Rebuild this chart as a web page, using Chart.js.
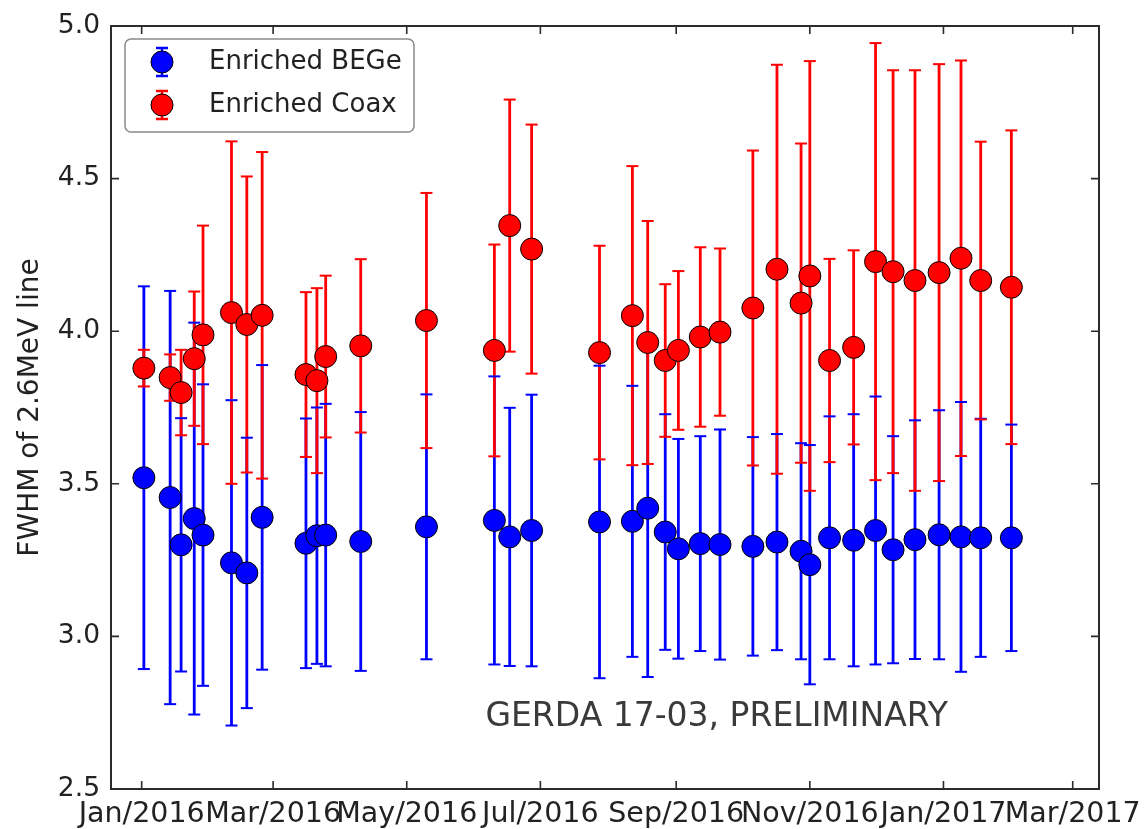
<!DOCTYPE html>
<html>
<head>
<meta charset="utf-8">
<script src="https://cdn.jsdelivr.net/npm/chart.js@4.4.1/dist/chart.umd.min.js"></script>
<style>
  html, body { margin: 0; padding: 0; background: #ffffff; }
  #wrap { width: 1146px; height: 829px; position: relative; }
</style>
</head>
<body>
<div id="wrap"><canvas id="c" width="1146" height="829"></canvas></div>
<script>
// Calibration runs (date of each run)
const runDates = [
  '2016-01-02', '2016-01-14', '2016-01-19', '2016-01-25', '2016-01-29',
  '2016-02-11', '2016-02-18', '2016-02-25', '2016-03-16', '2016-03-21',
  '2016-03-25', '2016-04-10', '2016-05-10', '2016-06-10', '2016-06-17',
  '2016-06-27', '2016-07-28', '2016-08-12', '2016-08-19', '2016-08-27',
  '2016-09-02', '2016-09-12', '2016-09-21', '2016-10-06', '2016-10-17',
  '2016-10-28', '2016-11-01', '2016-11-10', '2016-11-21', '2016-12-01',
  '2016-12-09', '2016-12-19', '2016-12-30', '2017-01-09', '2017-01-18',
  '2017-02-01'
];

// FWHM of the 2.6 MeV line (keV), enriched BEGe detectors
const begeFwhm = [
  3.520, 3.455, 3.300, 3.386, 3.332, 3.241, 3.208, 3.390, 3.305, 3.330,
  3.332, 3.311, 3.359, 3.380, 3.326, 3.347, 3.375, 3.377, 3.420, 3.342,
  3.287, 3.304, 3.301, 3.295, 3.309, 3.279, 3.235, 3.323, 3.315, 3.347,
  3.284, 3.317, 3.333, 3.326, 3.323, 3.323
];
const begeErr = [
  0.627, 0.677, 0.415, 0.642, 0.494, 0.533, 0.443, 0.499, 0.409, 0.420,
  0.430, 0.424, 0.434, 0.472, 0.423, 0.445, 0.512, 0.444, 0.553, 0.386,
  0.360, 0.352, 0.377, 0.358, 0.354, 0.354, 0.392, 0.398, 0.413, 0.439,
  0.372, 0.391, 0.408, 0.442, 0.390, 0.371
];

// FWHM of the 2.6 MeV line (keV), enriched coaxial detectors
const coaxFwhm = [
  3.879, 3.848, 3.799, 3.910, 3.988, 4.061, 4.022, 4.052, 3.858, 3.838,
  3.917, 3.952, 4.035, 3.937, 4.346, 4.269, 3.930, 4.051, 3.963, 3.904,
  3.937, 3.981, 3.997, 4.076, 4.203, 4.092, 4.181, 3.904, 3.947, 4.228,
  4.195, 4.166, 4.192, 4.239, 4.166, 4.144
];
const coaxErr = [
  0.060, 0.076, 0.140, 0.220, 0.358, 0.561, 0.485, 0.535, 0.270, 0.303,
  0.265, 0.284, 0.418, 0.347, 0.413, 0.408, 0.350, 0.490, 0.398, 0.250,
  0.260, 0.294, 0.274, 0.516, 0.670, 0.523, 0.704, 0.333, 0.318, 0.716,
  0.660, 0.689, 0.683, 0.648, 0.455, 0.514
];

// Axis ticks
const monthTicks = [
  '2016-01-01', '2016-03-01', '2016-05-01', '2016-07-01',
  '2016-09-01', '2016-11-01', '2017-01-01', '2017-03-01'
];
const yTicks = [2.5, 3.0, 3.5, 4.0, 4.5, 5.0];
const xRange = ['2015-12-18', '2017-03-13'];

const seriesNames = ['Enriched BEGe', 'Enriched Coax'];
const noteText = 'GERDA 17-03, PRELIMINARY';

const MONTHS = ['Jan','Feb','Mar','Apr','May','Jun','Jul','Aug','Sep','Oct','Nov','Dec'];
const EPOCH = Date.UTC(2016, 0, 1);
const DAY = 86400000;
function dayOf(s) {
  const [y, m, d] = s.split('-').map(Number);
  return (Date.UTC(y, m - 1, d) - EPOCH) / DAY;
}
function monthLabel(v) {
  const dt = new Date(EPOCH + Math.round(v) * DAY);
  return MONTHS[dt.getUTCMonth()] + '/' + dt.getUTCFullYear();
}

const FONT = "'DejaVu Sans', sans-serif";
const INK = '#222222';

// Vertical error bars with caps, drawn under the markers
const errorBarPlugin = {
  id: 'errorBars',
  beforeDatasetsDraw(chart) {
    const ctx = chart.ctx;
    const y = chart.scales.y;
    const sets = chart.data.datasets.map((ds, i) => ({ ds, meta: chart.getDatasetMeta(i) }));
    ctx.save();
    // stems first
    sets.forEach(({ ds, meta }) => {
      ctx.strokeStyle = ds.barColor;
      ctx.lineWidth = 2.8;
      meta.data.forEach((pt, j) => {
        const v = ds.data[j].y, e = ds.errors[j];
        ctx.beginPath();
        ctx.moveTo(pt.x, y.getPixelForValue(v + e));
        ctx.lineTo(pt.x, y.getPixelForValue(v - e));
        ctx.stroke();
      });
    });
    // caps
    sets.forEach(({ ds, meta }) => {
      ctx.strokeStyle = ds.barColor;
      ctx.lineWidth = 2;
      meta.data.forEach((pt, j) => {
        const v = ds.data[j].y, e = ds.errors[j];
        [v + e, v - e].forEach(val => {
          const py = y.getPixelForValue(val);
          ctx.beginPath();
          ctx.moveTo(pt.x - 6, py);
          ctx.lineTo(pt.x + 6, py);
          ctx.stroke();
        });
      });
    });
    ctx.restore();
  }
};

// Box frame with inward ticks on all four sides, legend and note
const framePlugin = {
  id: 'frame',
  afterDatasetsDraw(chart) {
    const { ctx, chartArea: a, scales: { x, y } } = chart;
    ctx.save();
    ctx.strokeStyle = '#2b2b2b';
    ctx.lineWidth = 1.6;
    const L = 8;
    x.ticks.forEach(t => {
      const px = x.getPixelForValue(t.value);
      ctx.beginPath();
      ctx.moveTo(px, a.bottom); ctx.lineTo(px, a.bottom - L);
      ctx.moveTo(px, a.top); ctx.lineTo(px, a.top + L);
      ctx.stroke();
    });
    y.ticks.forEach(t => {
      const py = y.getPixelForValue(t.value);
      ctx.beginPath();
      ctx.moveTo(a.left, py); ctx.lineTo(a.left + L, py);
      ctx.moveTo(a.right, py); ctx.lineTo(a.right - L, py);
      ctx.stroke();
    });
    ctx.lineWidth = 2;
    ctx.strokeRect(a.left, a.top, a.right - a.left, a.bottom - a.top);

    // note
    ctx.fillStyle = '#3a3a3a';
    ctx.font = '33px ' + FONT;
    ctx.textAlign = 'left';
    ctx.textBaseline = 'middle';
    ctx.fillText(noteText, a.left + 0.379 * (a.right - a.left), a.top + 0.906 * (a.bottom - a.top));

    // legend
    const bx = a.left + 14, by = a.top + 13, bw = 289, bh = 93, r = 6;
    ctx.beginPath();
    ctx.moveTo(bx + r, by);
    ctx.lineTo(bx + bw - r, by); ctx.arcTo(bx + bw, by, bx + bw, by + r, r);
    ctx.lineTo(bx + bw, by + bh - r); ctx.arcTo(bx + bw, by + bh, bx + bw - r, by + bh, r);
    ctx.lineTo(bx + r, by + bh); ctx.arcTo(bx, by + bh, bx, by + bh - r, r);
    ctx.lineTo(bx, by + r); ctx.arcTo(bx, by, bx + r, by, r);
    ctx.closePath();
    ctx.fillStyle = '#ffffff';
    ctx.fill();
    ctx.strokeStyle = '#8a8a8a';
    ctx.lineWidth = 1.5;
    ctx.stroke();

    chart.data.datasets.forEach((ds, i) => {
      const mx = bx + 37, my = by + 23 + i * 43;
      ctx.strokeStyle = ds.barColor;
      ctx.lineWidth = 2.4;
      ctx.beginPath();
      ctx.moveTo(mx, my - 14); ctx.lineTo(mx, my + 14);
      ctx.moveTo(mx - 6, my - 14); ctx.lineTo(mx + 6, my - 14);
      ctx.moveTo(mx - 6, my + 14); ctx.lineTo(mx + 6, my + 14);
      ctx.stroke();
      ctx.beginPath();
      ctx.arc(mx, my, 11, 0, Math.PI * 2);
      ctx.fillStyle = ds.backgroundColor;
      ctx.fill();
      ctx.strokeStyle = '#000';
      ctx.lineWidth = 1;
      ctx.stroke();
      ctx.fillStyle = INK;
      ctx.font = '26px ' + FONT;
      ctx.textBaseline = 'middle';
      ctx.fillText(ds.label, bx + 84, my);
    });
    ctx.restore();
  }
};

function series(label, values, errors, color, order) {
  return {
    label,
    data: runDates.map((d, i) => ({ x: dayOf(d), y: values[i] })),
    errors,
    barColor: color,
    backgroundColor: color,
    borderColor: '#000000',
    borderWidth: 1,
    pointRadius: 11,
    pointHoverRadius: 11,
    order
  };
}

new Chart(document.getElementById('c'), {
  type: 'scatter',
  data: {
    datasets: [
      series(seriesNames[0], begeFwhm, begeErr, '#0000ff', 1),
      series(seriesNames[1], coaxFwhm, coaxErr, '#ff0000', 0)
    ]
  },
  options: {
    responsive: false,
    animation: false,
    devicePixelRatio: 1,
    layout: { padding: { left: 0, top: 26, right: 47, bottom: 0 } },
    plugins: { legend: { display: false }, tooltip: { enabled: false } },
    scales: {
      x: {
        type: 'linear',
        min: dayOf(xRange[0]),
        max: dayOf(xRange[1]),
        afterBuildTicks: s => { s.ticks = monthTicks.map(t => ({ value: dayOf(t) })); },
        afterFit: s => { s.height = 40; s.paddingLeft = 0; s.paddingRight = 0; },
        grid: { display: false, drawTicks: false },
        border: { display: false },
        ticks: {
          autoSkip: false, maxRotation: 0, minRotation: 0, padding: 8,
          color: INK, font: { family: FONT, size: 28.5 },
          callback: v => monthLabel(v)
        }
      },
      y: {
        type: 'linear',
        min: yTicks[0],
        max: yTicks[yTicks.length - 1],
        afterBuildTicks: s => { s.ticks = yTicks.map(v => ({ value: v })); },
        afterFit: s => { s.width = 111; s.paddingTop = 0; s.paddingBottom = 0; },
        grid: { display: false, drawTicks: false },
        border: { display: false },
        ticks: {
          padding: 11, color: INK, font: { family: FONT, size: 26.5 },
          callback: v => Number(v).toFixed(1)
        },
        title: {
          display: true, text: 'FWHM of 2.6MeV line', color: INK,
          font: { family: FONT, size: 28 }, padding: { top: 14, bottom: 0 }
        }
      }
    }
  },
  plugins: [errorBarPlugin, framePlugin]
});
</script>
</body>
</html>
